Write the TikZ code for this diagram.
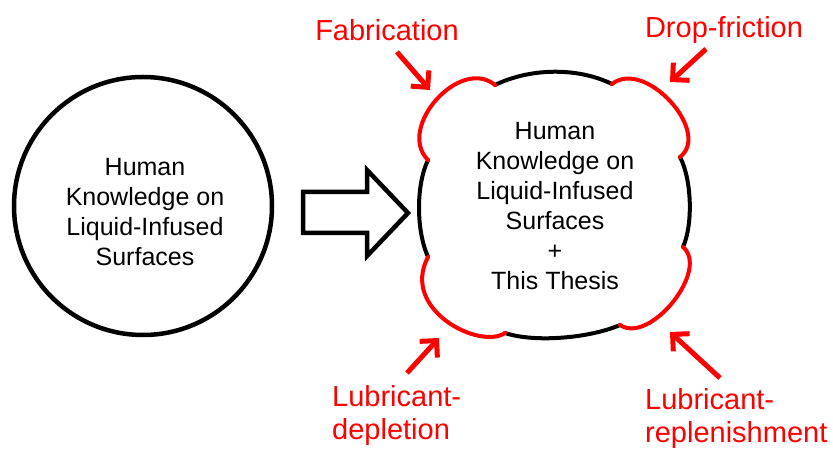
\documentclass[tikz,border=0pt]{standalone}
\usepackage{fontspec}
\setmainfont{Liberation Sans}
\usetikzlibrary{arrows.meta}
\definecolor{pptred}{RGB}{255,0,0}
\begin{document}
\begin{tikzpicture}[x=1pt,y=1pt,
  blacktext/.style={align=center,font=\fontsize{25}{30}\selectfont,text=black,inner sep=0pt},
  redlabel/.style={font=\fontsize{29}{33}\selectfont,text=pptred,inner sep=0pt},
  redarrow/.style={draw=pptred,line width=5pt,-{Straight Barb[length=12pt,width=24pt]}},
  blackseg/.style={draw=black,line width=4pt,line cap=round},
  redseg/.style={draw=pptred,line width=4pt,line cap=round}]
\useasboundingbox (0,0) rectangle (833,450);
% left circle
\node[circle,draw=black,line width=4.5pt,minimum size=258pt,inner sep=0pt] (oldcircle) at (143,244) {};
\node[blacktext] (oldtext) at (145,238) {Human\\Knowledge on\\Liquid-Infused\\Surfaces};
% block arrow
\draw[line width=4.5pt,fill=white,line join=miter] (303,258) -- (367,258) -- (367,280) -- (408,237) -- (367,194) -- (367,217) -- (303,217) -- cycle;
% cloud corner points
\coordinate (A) at (495,365);
\coordinate (B) at (612,366);
\coordinate (G) at (680,293);
\coordinate (H) at (683,203);
\coordinate (F) at (620,125);
\coordinate (E) at (505,117);
\coordinate (D) at (428,193);
\coordinate (C) at (428,290);
% black segments
\path[blackseg] (A) .. controls (530,382) and (577,383) .. (B);
\path[blackseg] (G) .. controls (692,270) and (693,225) .. (H);
\path[blackseg] (F) .. controls (590,112) and (535,107) .. (E);
\path[blackseg] (D) .. controls (416,220) and (416,265) .. (C);
% red lobes
\path[redseg] (B) .. controls (645,392) and (712,318) .. (G);
\path[redseg] (H) .. controls (710,180) and (650,105) .. (F);
\path[redseg] (E) .. controls (480,100) and (400,140) .. (D);
\path[redseg] (C) .. controls (396,322) and (460,394) .. (A);
% cloud text
\node[blacktext] (newtext) at (555,244) {Human\\Knowledge on\\Liquid-Infused\\Surfaces\\+\\This Thesis};
% red labels
\node[redlabel] (fab) at (387,420) {Fabrication};
\node[redlabel] (drop) at (724,420) {Drop-friction};
\node[redlabel,anchor=base west,align=left] (depl) at (332,10) {Lubricant-\\depletion};
\node[redlabel,anchor=base west,align=left] (repl) at (645,7) {Lubricant-\\replenishment};
% arrow ends
\coordinate (fabtail) at (397,398);
\coordinate (fabtip) at (430,360);
\coordinate (droptail) at (706,401);
\coordinate (droptip) at (670,368);
\coordinate (depltail) at (407,77);
\coordinate (depltip) at (439,112);
\coordinate (repltail) at (720,72);
\coordinate (repltip) at (670,118);
\draw[redarrow] (fabtail) -- (fabtip);
\draw[redarrow] (droptail) -- (droptip);
\draw[redarrow] (depltail) -- (depltip);
\draw[redarrow] (repltail) -- (repltip);
\end{tikzpicture}
\end{document}
